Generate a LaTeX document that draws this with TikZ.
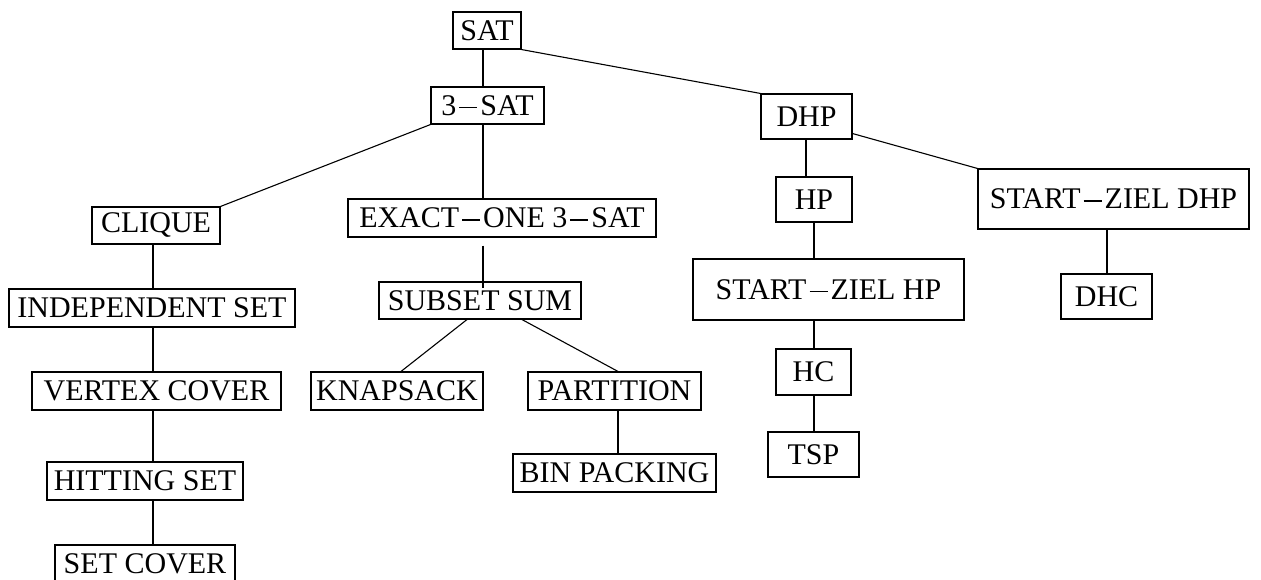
\documentclass[tikz,border=0pt]{standalone}
\usepackage{fontspec}
\setmainfont{Liberation Serif}
\newcommand{\zd}{\kern3pt\rule[7pt]{18pt}{1.4pt}\kern3pt}
\begin{document}
\begin{tikzpicture}[x=1pt,y=1pt,
  prob/.style={draw, line width=1.1pt, inner sep=0pt, anchor=center,
    font=\fontsize{30}{36}\selectfont},
  link/.style={line width=1.1pt}]
\useasboundingbox (0,0) rectangle (1261,-580);

% problem boxes
\node[prob, minimum width=68, minimum height=37]  (sat)    at (487,-30.5)    {SAT};
\node[prob, minimum width=113, minimum height=37] (sat3)   at (487.5,-105.5) {3\zd SAT};
\node[prob, minimum width=91, minimum height=45]  (dhp)    at (806.5,-116.5) {DHP};
\node[prob, minimum width=128, minimum height=37] (clique) at (156,-225.5)   {CLIQUE};
\node[prob, minimum width=308, minimum height=38] (exact)  at (502,-218)     {EXACT\zd ONE 3\zd SAT};
\node[prob, minimum width=76, minimum height=45]  (hp)     at (814,-199.5)   {HP};
\node[prob, minimum width=271, minimum height=60] (szdhp)  at (1113.5,-199)  {START\zd ZIEL DHP};
\node[prob, minimum width=286, minimum height=38] (indep)  at (152,-308)     {INDEPENDENT SET};
\node[prob, minimum width=202, minimum height=37] (subset) at (480,-300.5)   {SUBSET SUM};
\node[prob, minimum width=271, minimum height=61] (szhp)   at (828.5,-289.5) {START\zd ZIEL HP};
\node[prob, minimum width=91, minimum height=45]  (dhc)    at (1106.5,-296.5) {DHC};
\node[prob, minimum width=249, minimum height=38] (vc)     at (156.5,-391)   {VERTEX COVER};
\node[prob, minimum width=172, minimum height=38] (knap)   at (397,-391)     {KNAPSACK};
\node[prob, minimum width=173, minimum height=38] (part)   at (614.5,-391)   {PARTITION};
\node[prob, minimum width=75, minimum height=46]  (hc)     at (813.5,-372)   {HC};
\node[prob, minimum width=91, minimum height=45]  (tsp)    at (813.5,-454.5) {TSP};
\node[prob, minimum width=196, minimum height=38] (hit)    at (145,-481)     {HITTING SET};
\node[prob, minimum width=203, minimum height=38] (bin)    at (614.5,-473)   {BIN PACKING};
\node[prob, minimum width=180, minimum height=38] (setc)   at (145,-564)     {SET COVER};

% columns of the vertical connectors
\coordinate (ca) at (483,0);
\coordinate (cb) at (153,0);
\coordinate (cc) at (618,0);
\coordinate (cd) at (806,0);
\coordinate (ce) at (814,0);
\coordinate (cf) at (1107,0);

% reductions
\draw[link] (sat.south -| ca) -- (sat3.north -| ca);
\draw[link] (sat.south east) -- (dhp.north west);
\draw[link] (sat3.south west) -- (clique.north east);
\draw[link] (sat3.south -| ca) -- (exact.north -| ca);
\draw[link] ([yshift=-8pt]exact.south -| ca) -- ([yshift=-7pt]subset.north -| ca);
\draw[link] ([xshift=-13pt]subset.south) -- ([xshift=4pt]knap.north);
\draw[link] ([xshift=42pt]subset.south) -- ([xshift=3.5pt]part.north);
\draw[link] (part.south -| cc) -- (bin.north -| cc);
\draw[link] (clique.south -| cb) -- (indep.north -| cb);
\draw[link] (indep.south -| cb) -- (vc.north -| cb);
\draw[link] (vc.south -| cb) -- (hit.north -| cb);
\draw[link] (hit.south -| cb) -- (setc.north -| cb);
\draw[link] (dhp.south -| cd) -- (hp.north -| cd);
\draw[link] ([yshift=6pt]dhp.south east) -- (szdhp.north west);
\draw[link] (hp.south -| ce) -- (szhp.north -| ce);
\draw[link] (szhp.south -| ce) -- (hc.north -| ce);
\draw[link] (hc.south -| ce) -- (tsp.north -| ce);
\draw[link] (szdhp.south -| cf) -- (dhc.north -| cf);
\end{tikzpicture}
\end{document}
